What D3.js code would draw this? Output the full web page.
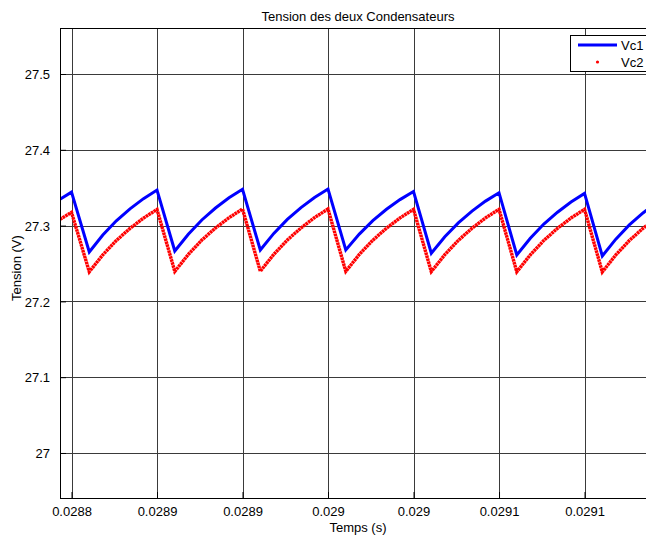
<!DOCTYPE html>
<html lang='fr'>
<head>
<meta http-equiv='Content-Type' content='text/html;charset=utf-8'/>
<title>Tension des deux Condensateurs</title>
<script src='https://d3js.org/d3.v7.min.js'></script>
<style>
  body { margin: 0; background: #ffffff; }
  text { font-family: 'Liberation Sans', Arial, sans-serif; font-size: 13px; fill: #000; }
</style>
</head>
<body>
<script>
'use strict'
// temps (s) des points
const temps = [
  0.02879327,
  0.0288, 0.0288104, 0.0288183, 0.0288262, 0.0288342, 0.0288421,
  0.02885, 0.0288604, 0.0288683, 0.0288762, 0.0288842, 0.0288921,
  0.0289, 0.0289104, 0.0289183, 0.0289262, 0.0289342, 0.0289421,
  0.02895, 0.0289604, 0.0289683, 0.0289762, 0.0289842, 0.0289921,
  0.029, 0.0290104, 0.0290183, 0.0290262, 0.0290342, 0.0290421,
  0.02905, 0.0290604, 0.0290683, 0.0290762, 0.0290842, 0.0290921,
  0.0291, 0.0291104, 0.0291183, 0.0291262, 0.0291342, 0.0291421
]
// tension Vc1 (V)
const vc1 = [
  27.3347,
  27.3441, 27.2652, 27.2875, 27.3063, 27.3221, 27.3356,
  27.3470, 27.2665, 27.2886, 27.3074, 27.3232, 27.3366,
  27.3479, 27.2678, 27.2897, 27.3082, 27.3238, 27.3371,
  27.3483, 27.2678, 27.2888, 27.3066, 27.3215, 27.3343,
  27.3450, 27.2635, 27.2852, 27.3036, 27.3191, 27.3323,
  27.3434, 27.2612, 27.2833, 27.3020, 27.3177, 27.3311,
  27.3424, 27.2599, 27.2821, 27.3009, 27.3167, 27.3302
]
// tension Vc2 (V)
const vc2 = [
  27.3083,
  27.3175, 27.2390, 27.2614, 27.2803, 27.2963, 27.3099,
  27.3213, 27.2395, 27.2619, 27.2809, 27.2968, 27.3104,
  27.3219, 27.2398, 27.2621, 27.2810, 27.2969, 27.3105,
  27.3219, 27.2396, 27.2619, 27.2807, 27.2966, 27.3101,
  27.3215, 27.2392, 27.2616, 27.2805, 27.2965, 27.3101,
  27.3215, 27.2390, 27.2614, 27.2804, 27.2964, 27.3100,
  27.3215, 27.2388, 27.2613, 27.2803, 27.2964, 27.3100
]
const xTicks = [0.0288, 0.02885, 0.0289, 0.02895, 0.029, 0.02905, 0.0291]
const xTickLabels = ['0.0288', '0.0289', '0.0289', '0.029', '0.029', '0.0291', '0.0291']
const yTicks = [27, 27.1, 27.2, 27.3, 27.4, 27.5]
const yTickLabels = ['27', '27.1', '27.2', '27.3', '27.4', '27.5']
const seriesNames = ['Vc1', 'Vc2']
const seriesColors = ['#0000ff', '#ff0000']

const W = 646, H = 536
// the axes box runs past the right border of the picture
const box = {left: 60, top: 28, right: 656, bottom: 498}

const x = d3.scaleLinear().domain([0.02879327, 0.0291418]).range([box.left, box.right])
const y = d3.scaleLinear().domain([26.9406, 27.5607]).range([box.bottom, box.top])

const svg = d3.select('body').append('svg')
  .attr('width', W)
  .attr('height', H)

svg.append('rect').attr('width', W).attr('height', H).attr('fill', '#ffffff')

svg.append('clipPath').attr('id', 'clip')
  .append('rect')
  .attr('x', box.left).attr('y', box.top)
  .attr('width', box.right - box.left).attr('height', box.bottom - box.top)

// grid
const grid = svg.append('g').attr('shape-rendering', 'crispEdges')
grid.selectAll('.vg').data(xTicks).join('line')
  .attr('x1', d => Math.round(x(d)) + 0.5).attr('x2', d => Math.round(x(d)) + 0.5)
  .attr('y1', box.top).attr('y2', box.bottom)
  .attr('stroke', '#3a3a3a')
grid.selectAll('.hg').data(yTicks).join('line')
  .attr('y1', d => Math.round(y(d)) + 0.5).attr('y2', d => Math.round(y(d)) + 0.5)
  .attr('x1', box.left).attr('x2', box.right)
  .attr('stroke', '#3a3a3a')

// axes, ticks pointing inwards
const xAxis = d3.axisBottom(x).tickValues(xTicks)
  .tickFormat((d, i) => xTickLabels[i]).tickSizeInner(-6).tickSizeOuter(0).tickPadding(9)
const yAxis = d3.axisLeft(y).tickValues(yTicks)
  .tickFormat((d, i) => yTickLabels[i]).tickSizeInner(-6).tickSizeOuter(0).tickPadding(10)

const gx = svg.append('g').attr('transform', `translate(0,${box.bottom})`).call(xAxis)
const gy = svg.append('g').attr('transform', `translate(${box.left},0)`).call(yAxis)
for (const g of [gx, gy]) {
  g.select('.domain').remove()
  g.selectAll('line').attr('stroke', '#000')
  g.selectAll('text').attr('font-size', 13).attr('font-family', null)
}
gx.selectAll('text').attr('dy', '0.71em')
gy.selectAll('text').attr('dy', '0.36em')

// lines
const pts1 = temps.map((t, i) => [t, vc1[i]])
const pts2 = temps.map((t, i) => [t, vc2[i]])
const line = d3.line().x(d => x(d[0])).y(d => y(d[1]))

const plot = svg.append('g').attr('clip-path', 'url(#clip)')
plot.append('path')
  .attr('d', line(pts2))
  .attr('fill', 'none')
  .attr('stroke', seriesColors[1])
  .attr('stroke-width', 3.4)
  .attr('stroke-dasharray', '2.6,0.5')
plot.append('path')
  .attr('d', line(pts1))
  .attr('fill', 'none')
  .attr('stroke', seriesColors[0])
  .attr('stroke-width', 3)

// axes box
svg.append('rect')
  .attr('x', box.left + 0.5).attr('y', box.top + 0.5)
  .attr('width', box.right - box.left).attr('height', box.bottom - box.top)
  .attr('fill', 'none').attr('stroke', '#000')
  .attr('shape-rendering', 'crispEdges')

// legend
const legend = svg.append('g')
legend.append('rect')
  .attr('x', 570.5).attr('y', 35.5).attr('width', 100).attr('height', 36)
  .attr('fill', '#ffffff').attr('stroke', '#000')
  .attr('shape-rendering', 'crispEdges')
legend.append('line')
  .attr('x1', 578).attr('x2', 617).attr('y1', 45).attr('y2', 45)
  .attr('stroke', seriesColors[0]).attr('stroke-width', 3)
legend.append('circle')
  .attr('cx', 597.5).attr('cy', 62).attr('r', 1.6)
  .attr('fill', seriesColors[1])
legend.selectAll('.lab').data(seriesNames).join('text')
  .attr('x', 621)
  .attr('y', (d, i) => 45 + i * 17)
  .attr('dy', '0.36em')
  .text(d => d)

// titles
svg.append('text')
  .attr('x', 358).attr('y', 21)
  .attr('text-anchor', 'middle')
  .text('Tension des deux Condensateurs')
svg.append('text')
  .attr('x', 358).attr('y', 532)
  .attr('text-anchor', 'middle')
  .text('Temps (s)')
svg.append('text')
  .attr('transform', 'translate(21,268) rotate(-90)')
  .attr('text-anchor', 'middle')
  .text('Tension (V)')
</script>
</body>
</html>
